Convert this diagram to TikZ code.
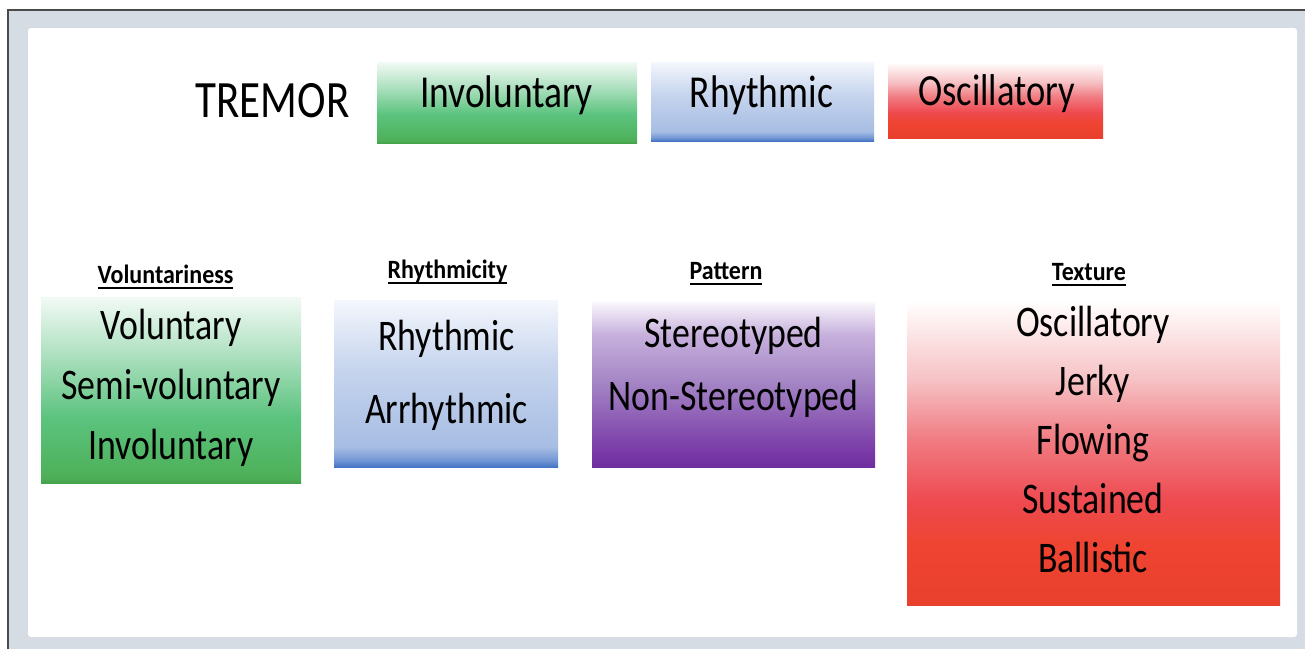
\documentclass[tikz,border=0pt]{standalone}
\usepackage{fontspec}
\setmainfont{Carlito}
\usepackage{graphicx}
\usetikzlibrary{positioning}

\definecolor{framegray}{HTML}{D6DCE4}
\definecolor{framedark}{HTML}{4A4A4A}
\definecolor{gA}{HTML}{45A24B}\definecolor{gB}{HTML}{4DB058}
\definecolor{gC}{HTML}{5BC37E}\definecolor{gD}{HTML}{B0E1C2}\definecolor{gE}{HTML}{F2FAF5}
\definecolor{bA}{HTML}{4574C6}\definecolor{bB}{HTML}{7296D4}
\definecolor{bC}{HTML}{A7BDE3}\definecolor{bD}{HTML}{C7D5EE}\definecolor{bE}{HTML}{F4F7FC}
\definecolor{pA}{HTML}{6F2E9E}\definecolor{pB}{HTML}{7A3BA8}
\definecolor{pC}{HTML}{A383C4}\definecolor{pD}{HTML}{C6B0DC}\definecolor{pE}{HTML}{FAF7FC}
\definecolor{rA}{HTML}{E9402D}\definecolor{rB}{HTML}{EE4431}\definecolor{rC}{HTML}{EE4A50}
\definecolor{rD}{HTML}{F07B81}\definecolor{rE}{HTML}{F6C2C5}\definecolor{rF}{HTML}{FFF6F6}

\pgfdeclareverticalshading{grnshade}{100bp}{color(0bp)=(gA); color(25bp)=(gA);
  color(26.5bp)=(gB); color(42.5bp)=(gC); color(60bp)=(gD); color(75bp)=(gE); color(100bp)=(gE)}
\pgfdeclareverticalshading{blushade}{100bp}{color(0bp)=(bA); color(25bp)=(bA);
  color(27bp)=(bB); color(31bp)=(bC); color(55bp)=(bD); color(75bp)=(bE); color(100bp)=(bE)}
\pgfdeclareverticalshading{purshade}{100bp}{color(0bp)=(pA); color(25bp)=(pA);
  color(30bp)=(pB); color(50bp)=(pC); color(65bp)=(pD); color(75bp)=(pE); color(100bp)=(pE)}
\pgfdeclareverticalshading{redshade}{100bp}{color(0bp)=(rA); color(25bp)=(rA);
  color(35bp)=(rB); color(42bp)=(rC); color(52bp)=(rD); color(62bp)=(rE); color(73bp)=(rF);
  color(75bp)=(white); color(100bp)=(white)}

\newcommand{\tall}[2][1.22]{\scalebox{1}[#1]{#2}}
\newcommand{\uline}[1]{\sbox0{#1}\rlap{\rule[-5pt]{\wd0}{1.8pt}}\usebox0}

\begin{document}
\begin{tikzpicture}[x=1pt, y=-1pt,
  box/.style={rectangle, draw=none, inner sep=0pt, shading=#1},
  word/.style={anchor=base, inner sep=0pt, font=\fontsize{37.5}{45}\selectfont},
  hdr/.style={anchor=base, inner sep=0pt, font=\fontsize{24}{28}\selectfont\bfseries},
  items/.style={anchor=north, inner sep=0pt, align=center, font=\fontsize{35.8}{#1}\selectfont}
]
  \useasboundingbox (0,0) rectangle (1305,649);
  \fill[white] (0,0) rectangle (1305,649);
  \fill[framegray] (8,10) rectangle (1305,649);
  \draw[framedark, line width=1.5pt] (8,649) -- (8,10) -- (1305,10);
  \fill[white, rounded corners=3pt] (28,28) rectangle (1297,637);

  \node[word, font=\fontsize{43}{50}\selectfont] (tremor) at (272.5,117) {\tall{TREMOR}};
  \node[box=grnshade, minimum width=260pt, minimum height=81pt] (invbox) at (507,102.5) {};
  \node[box=blushade, minimum width=223pt, minimum height=79pt] (rhybox) at (762.5,101.5) {};
  \node[box=redshade, minimum width=215pt, minimum height=76pt] (oscbox) at (995.5,100) {};
  \node[word] (inv) at (506.5,107) {\tall{Involuntary}};
  \node[word] (rhy) at (761.5,107) {\tall{Rhythmic}};
  \node[word, font=\fontsize{36.5}{44}\selectfont] (osc) at (996.5,105.5) {\tall{Oscillatory}};

  \node[box=grnshade, minimum width=260pt, minimum height=186pt] (vol) at (171,390) {};
  \node[box=blushade, minimum width=224pt, minimum height=167pt] (rhc) at (446,383.5) {};
  \node[box=purshade, minimum width=283pt, minimum height=165pt] (pat) at (733.5,384.5) {};
  \node[box=redshade, minimum width=373pt, minimum height=305pt] (tex) at (1093.5,452.5) {};

  \node[hdr] (volhdr) at (165.5,283) {\tall[1.1]{\uline{Voluntariness}}};
  \node[hdr] (rhchdr) at (447.5,278) {\tall[1.1]{\uline{Rhythmicity}}};
  \node[hdr] (pathdr) at (726,279) {\tall[1.1]{\uline{Pattern}}};
  \node[hdr] (texhdr) at (1089,280) {\tall[1.1]{\uline{Texture}}};

  \node[items=60] (volitems) at (171,309)
    {\tall{Voluntary}\\\tall{Semi-voluntary}\\\tall{Involuntary}};
  \node[items=73] (rhcitems) at (446.5,320) {\tall{Rhythmic}\\\tall{Arrhythmic}};
  \node[items=63] (patitems) at (733.5,317) {\tall{Stereotyped}\\\tall{Non-Stereotyped}};
  \node[items=59] (texitems) at (1093,306)
    {\tall{Oscillatory}\\\tall{Jerky}\\\tall{Flowing}\\\tall{Sustained}\\\tall{Ballistic}};
\end{tikzpicture}
\end{document}
